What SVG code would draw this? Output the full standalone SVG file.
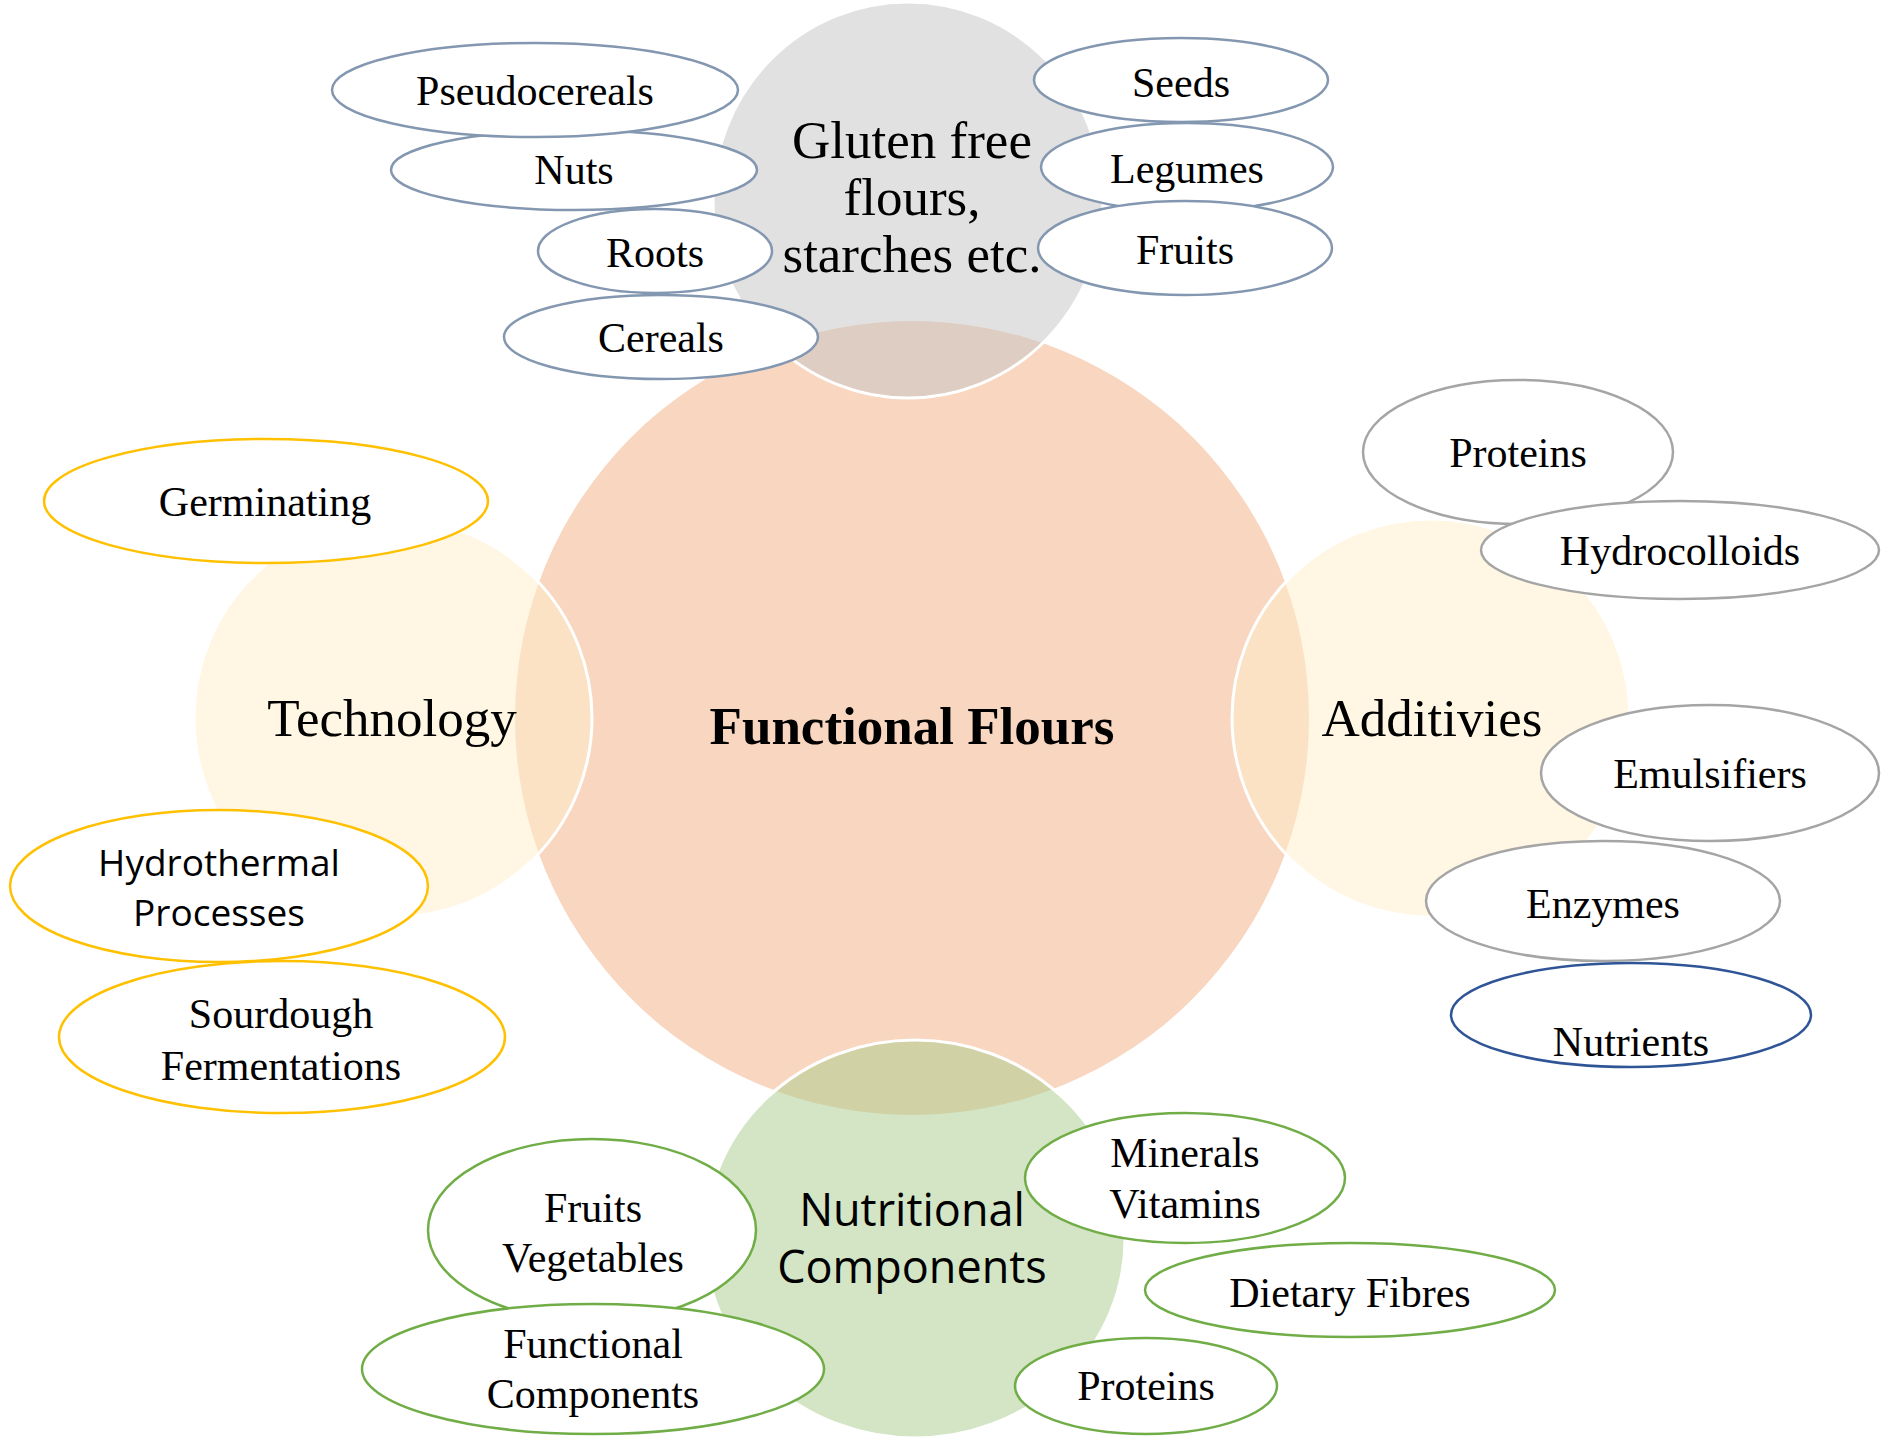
<svg xmlns="http://www.w3.org/2000/svg" width="1881" height="1440" viewBox="0 0 1881 1440">
  <style>
    .hub { fill: #F8D6C0; }
    .petal { stroke: #FFFFFF; stroke-width: 3; }
    .grey { fill: #C4C4C4; fill-opacity: 0.5; }
    .amber { fill: #FFEDC7; fill-opacity: 0.5; }
    .leaf { fill: #A7CB89; fill-opacity: 0.5; }
    .item { fill: #FFFFFF; stroke-width: 2.5; }
    .slate { stroke: #8497B0; }
    .gold { stroke: #FFC000; }
    .silver { stroke: #A5A5A5; }
    .navy { stroke: #2F5597; }
    .green { stroke: #70AD47; }
    text { fill: #000000; text-anchor: middle; }
    .serif { font-family: "Liberation Serif", "Times New Roman", serif; font-size: 42px; }
    .big { font-family: "Liberation Serif", "Times New Roman", serif; font-size: 53px; }
    .bold { font-weight: bold; }
    .sans { font-family: "Open Sans", "Noto Sans", sans-serif; font-size: 37px; }
    .sansbig { font-family: "Open Sans", "Noto Sans", sans-serif; font-size: 45px; }
  </style>

  <!-- central hub -->
  <g id="functional-flours">
    <circle class="hub" cx="912" cy="718" r="397"/>
    <text class="big bold" x="912" y="744">Functional Flours</text>
  </g>

  <!-- four satellite circles, translucent over the hub -->
  <g id="gluten-free">
    <ellipse class="petal grey" cx="908" cy="200" rx="195" ry="198"/>
    <text class="big" x="912" y="158">Gluten free</text>
    <text class="big" x="912" y="215">flours,</text>
    <text class="big" x="912" y="272">starches etc.</text>
  </g>
  <g id="technology">
    <circle class="petal amber" cx="393" cy="718" r="199"/>
    <text class="big" x="392" y="736">Technology</text>
  </g>
  <g id="additivies">
    <circle class="petal amber" cx="1431" cy="718" r="199"/>
    <text class="big" x="1432" y="736">Additivies</text>
  </g>
  <g id="nutritional">
    <ellipse class="petal leaf" cx="915" cy="1239" rx="210" ry="199"/>
    <text class="sansbig" x="912" y="1226">Nutritional</text>
    <text class="sansbig" x="912" y="1283">Components</text>
  </g>

  <!-- gluten free sources -->
  <g id="nuts">
    <ellipse class="item slate" cx="574" cy="170" rx="183" ry="40"/>
    <text class="serif" x="574" y="184">Nuts</text>
  </g>
  <g id="pseudocereals">
    <ellipse class="item slate" cx="535" cy="90" rx="203" ry="47"/>
    <text class="serif" x="535" y="105">Pseudocereals</text>
  </g>
  <g id="roots">
    <ellipse class="item slate" cx="655" cy="251" rx="117" ry="42"/>
    <text class="serif" x="655" y="267">Roots</text>
  </g>
  <g id="cereals">
    <ellipse class="item slate" cx="661" cy="337" rx="157" ry="42"/>
    <text class="serif" x="661" y="352">Cereals</text>
  </g>
  <g id="legumes">
    <ellipse class="item slate" cx="1187" cy="167" rx="146" ry="44"/>
    <text class="serif" x="1187" y="183">Legumes</text>
  </g>
  <g id="seeds">
    <ellipse class="item slate" cx="1181" cy="80" rx="147" ry="42"/>
    <text class="serif" x="1181" y="97">Seeds</text>
  </g>
  <g id="fruits">
    <ellipse class="item slate" cx="1185" cy="248" rx="147" ry="47"/>
    <text class="serif" x="1185" y="264">Fruits</text>
  </g>

  <!-- technology -->
  <g id="germinating">
    <ellipse class="item gold" cx="266" cy="501" rx="222" ry="62"/>
    <text class="serif" x="265" y="516">Germinating</text>
  </g>
  <g id="hydrothermal">
    <ellipse class="item gold" cx="219" cy="886" rx="209" ry="76"/>
    <text class="sans" x="219" y="876">Hydrothermal</text>
    <text class="sans" x="219" y="926">Processes</text>
  </g>
  <g id="sourdough">
    <ellipse class="item gold" cx="282" cy="1037" rx="223" ry="76"/>
    <text class="serif" x="281" y="1028">Sourdough</text>
    <text class="serif" x="281" y="1080">Fermentations</text>
  </g>

  <!-- additives -->
  <g id="proteins-add">
    <ellipse class="item silver" cx="1518" cy="452" rx="155" ry="72"/>
    <text class="serif" x="1518" y="467">Proteins</text>
  </g>
  <g id="hydrocolloids">
    <ellipse class="item silver" cx="1680" cy="550" rx="199" ry="49"/>
    <text class="serif" x="1680" y="565">Hydrocolloids</text>
  </g>
  <g id="emulsifiers">
    <ellipse class="item silver" cx="1710" cy="773" rx="169" ry="68"/>
    <text class="serif" x="1710" y="788">Emulsifiers</text>
  </g>
  <g id="enzymes">
    <ellipse class="item silver" cx="1603" cy="901" rx="177" ry="60"/>
    <text class="serif" x="1603" y="918">Enzymes</text>
  </g>
  <g id="nutrients">
    <ellipse class="item navy" cx="1631" cy="1015" rx="180" ry="52"/>
    <text class="serif" x="1631" y="1056">Nutrients</text>
  </g>

  <!-- nutritional components -->
  <g id="fruits-vegetables">
    <ellipse class="item green" cx="592" cy="1230" rx="164" ry="91"/>
    <text class="serif" x="593" y="1222">Fruits</text>
    <text class="serif" x="593" y="1272">Vegetables</text>
  </g>
  <g id="functional-components">
    <ellipse class="item green" cx="593" cy="1369" rx="231" ry="65"/>
    <text class="serif" x="593" y="1358">Functional</text>
    <text class="serif" x="593" y="1408">Components</text>
  </g>
  <g id="minerals-vitamins">
    <ellipse class="item green" cx="1185" cy="1178" rx="160" ry="65"/>
    <text class="serif" x="1185" y="1167">Minerals</text>
    <text class="serif" x="1185" y="1218">Vitamins</text>
  </g>
  <g id="dietary-fibres">
    <ellipse class="item green" cx="1350" cy="1290" rx="205" ry="47"/>
    <text class="serif" x="1350" y="1307">Dietary Fibres</text>
  </g>
  <g id="proteins-nut">
    <ellipse class="item green" cx="1146" cy="1386" rx="131" ry="48"/>
    <text class="serif" x="1146" y="1400">Proteins</text>
  </g>
</svg>
